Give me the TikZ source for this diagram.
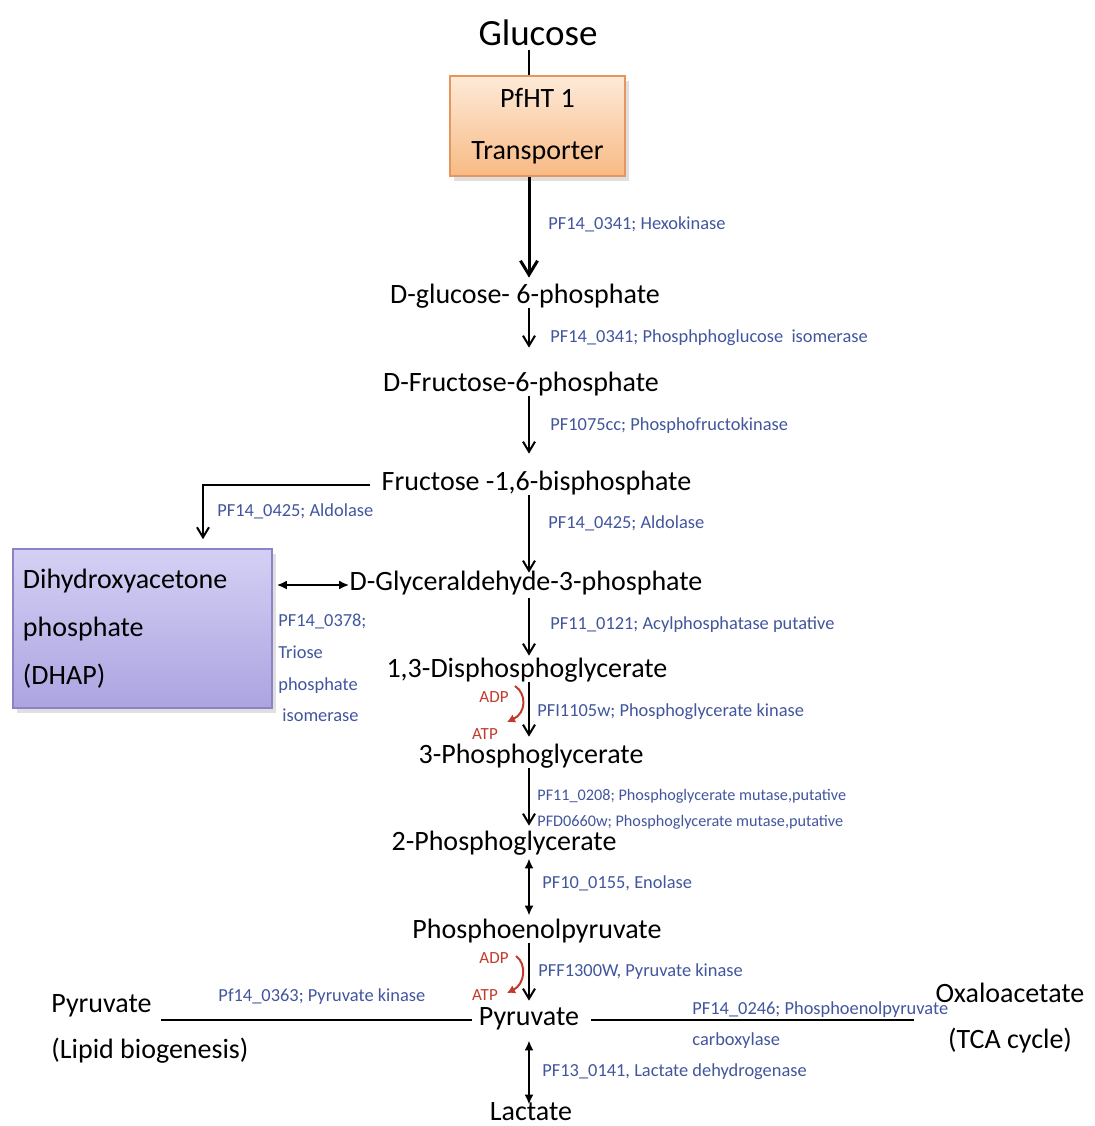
\documentclass[tikz,border=0pt]{standalone}
\usepackage{fontspec}
\setmainfont{Carlito}
\usetikzlibrary{arrows.meta}
\usetikzlibrary{shadows}

\definecolor{enzblue}{RGB}{66,86,158}
\definecolor{cofred}{RGB}{195,58,45}
\definecolor{httop}{RGB}{253,234,216}
\definecolor{htbot}{RGB}{248,186,132}
\definecolor{htdraw}{RGB}{228,150,92}
\definecolor{dhtop}{RGB}{212,208,244}
\definecolor{dhbot}{RGB}{172,164,225}
\definecolor{dhdraw}{RGB}{140,130,196}

\tikzset{
  met/.style={inner sep=0pt, text height=.75em, text depth=.25em, font=\fontsize{14}{17}\selectfont},
  enz/.style={inner sep=0pt, anchor=west, text height=.75em, text depth=.25em, text=enzblue, font=\fontsize{9.2}{11}\selectfont},
  enzblock/.style={inner sep=0pt, align=left, text=enzblue, font=\fontsize{9.2}{15.8}\selectfont},
  cof/.style={inner sep=0pt, text height=.75em, text depth=.25em, text=cofred, font=\fontsize{8.5}{10}\selectfont},
  arr/.style={line width=1pt, -{Straight Barb[length=5pt,width=6pt]}},
  dbl/.style={line width=1pt, {Latex[length=5pt,width=4.5pt]}-{Latex[length=5pt,width=4.5pt]}},
  cofhook/.style={cofred, line width=1pt, -{Latex[length=4pt,width=4.5pt]}},
  transbox/.style={draw=htdraw, line width=.8pt, top color=httop, bottom color=htbot,
    minimum width=87.5pt, minimum height=50pt, align=center, font=\fontsize{14}{26}\selectfont,
    drop shadow={opacity=.25, shadow xshift=2pt, shadow yshift=-2.5pt}},
  dhapbox/.style={draw=dhdraw, line width=.8pt, top color=dhtop, bottom color=dhbot,
    text width=119.5pt, inner xsep=5pt, minimum height=79.5pt, align=left, font=\fontsize{14}{24}\selectfont,
    drop shadow={opacity=.25, shadow xshift=2pt, shadow yshift=-2.5pt}},
}

\begin{document}
\begin{tikzpicture}[x=0.5pt, y=-0.5pt]
    \path[fill=white] (0,0) rectangle (1094,1126);
    \useasboundingbox (0,0) rectangle (1094,1126);

    % main chain
    \node[met, font=\fontsize{18.5}{22}\selectfont] (glc) at (538,40) {Glucose};
    \node[transbox] (ht) at (537.5,126) {PfHT 1\\Transporter};
    \node[met] (g6p) at (525,298) {D-glucose- 6-phosphate};
    \node[met] (f6p) at (521,386) {D-Fructose-6-phosphate};
    \node[met] (f16bp) at (536.5,485) {Fructose -1,6-bisphosphate};
    \node[met] (gap) at (526,585) {D-Glyceraldehyde-3-phosphate};
    \node[met] (bpg) at (527,672) {1,3-Disphosphoglycerate};
    \node[met] (pg3) at (531,758) {3-Phosphoglycerate};
    \node[met] (pg2) at (504,845) {2-Phosphoglycerate};
    \node[met] (pep) at (537,933) {Phosphoenolpyruvate};
    \node[met] (pyr) at (529,1020) {Pyruvate};
    \node[met] (lac) at (531,1115) {Lactate};

    % side products
    \node[dhapbox] (dhap) at (142.5,628.5) {Dihydroxyacetone\\phosphate\\(DHAP)};
    \node[met, anchor=west] (lipa) at (51,1007) {Pyruvate};
    \node[met, anchor=west] (lipb) at (51,1053) {(Lipid biogenesis)};
    \node[met] (oxa) at (1010,997) {Oxaloacetate};
    \node[met] (tca) at (1010,1043) {(TCA cycle)};

    % enzymes
    \node[enz] (hk) at (548,224) {PF14\_0341; Hexokinase};
    \node[enz] (pgi) at (550,337) {PF14\_0341; Phosphphoglucose~ isomerase};
    \node[enz] (pfk) at (550,425) {PF1075cc; Phosphofructokinase};
    \node[enz] (ald) at (548,523) {PF14\_0425; Aldolase};
    \node[enz] (aldl) at (217,511) {PF14\_0425; Aldolase};
    \node[enzblock, anchor=north west] (tpi) at (278,614) {PF14\_0378;\\Triose\\phosphate\\\hspace{2pt}isomerase};
    \node[enz] (gapdh) at (550,624) {PF11\_0121; Acylphosphatase putative};
    \node[enz] (pgk) at (537,711) {PFI1105w; Phosphoglycerate kinase};
    \node[enzblock, anchor=west, font=\fontsize{8.1}{13}\selectfont] (pgm) at (537,809) {PF11\_0208; Phosphoglycerate mutase,putative\\PFD0660w; Phosphoglycerate mutase,putative};
    \node[enz] (eno) at (542,883) {PF10\_0155, Enolase};
    \node[enz] (pk) at (538,971) {PFF1300W, Pyruvate kinase};
    \node[enz] (pkl) at (218,996) {Pf14\_0363; Pyruvate kinase};
    \node[enzblock, anchor=north west, font=\fontsize{9.2}{15.5}\selectfont] (pepc) at (692,1001) {PF14\_0246; Phosphoenolpyruvate\\carboxylase};
    \node[enz] (ldh) at (542,1071) {PF13\_0141, Lactate dehydrogenase};

    % cofactors
    \node[cof] (adp1) at (494,697) {ADP};
    \node[cof] (atp1) at (485,734) {ATP};
    \node[cof] (adp2) at (494,958) {ADP};
    \node[cof] (atp2) at (485,995) {ATP};

    \coordinate (axis) at (529,0);
    \coordinate (drop) at (203,0);
    \coordinate (h1s) at (515,686);
    \coordinate (h1e) at (507,722);
    \coordinate (h2s) at (516,956);
    \coordinate (h2e) at (507,993);

    \draw[line width=1pt] (glc.south -| axis) -- (ht.north -| axis);
    \draw[line width=1.5pt, -{Straight Barb[length=7pt,width=8.5pt]}, shorten >=5pt] (ht.south -| axis) -- (g6p.north -| axis);
    \draw[arr, shorten >=14pt] (g6p.south -| axis) -- (f6p.north -| axis);
    \draw[arr, shorten >=10.5pt] (f6p.south -| axis) -- (f16bp.north -| axis);
    \draw[arr, shorten >=1pt] (f16bp.south -| axis) -- (gap.north -| axis);
    \draw[arr, shorten <=1.5pt, shorten >=3pt] (gap.south -| axis) -- (bpg.north -| axis);
    \draw[arr, shorten >=5.5pt] (bpg.south -| axis) -- (pg3.north -| axis);
    \draw[arr, shorten >=4.5pt] (pg3.south -| axis) -- (pg2.north -| axis);
    \draw[dbl, shorten <=1.5pt, shorten >=3.5pt] (pg2.south -| axis) -- (pep.north -| axis);
    \draw[arr, shorten >=4.5pt] (pep.south -| axis) -- (pyr.north -| axis);
    \draw[dbl, shorten <=5pt] (pyr.south -| axis) -- (lac.north -| axis);

    \draw[arr, shorten <=5.5pt, shorten >=4.5pt] (f16bp.west) -| (dhap.north -| drop);
    \draw[dbl, shorten <=2pt] (dhap.east |- gap.west) -- (gap.west);
    \draw[line width=1.2pt, shorten <=4.5pt, shorten >=3.5pt] (lipa.east |- pyr.west) -- (pyr.west);
    \draw[line width=1.2pt, shorten <=6pt, shorten >=10.5pt] (pyr.east) -- (pyr.east -| oxa.west);

    \draw[cofhook] (h1s) .. controls (527,694) and (526,713) .. (h1e);
    \draw[cofhook] (h2s) .. controls (527,964) and (525,984) .. (h2e);
\end{tikzpicture}
\end{document}
